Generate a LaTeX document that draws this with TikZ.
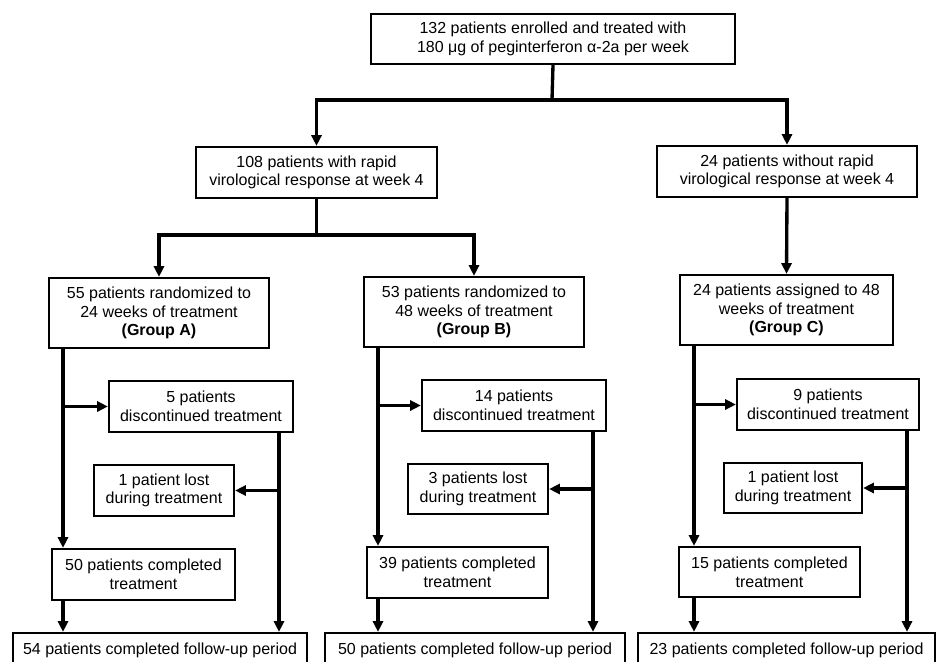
\documentclass[tikz,border=0pt]{standalone}
\usepackage{fontspec}
\setmainfont{Liberation Sans}
\usetikzlibrary{arrows.meta}
\begin{document}
\begin{tikzpicture}[x=0.75pt,y=-0.75pt,
 bx/.style 2 args={draw, line width=1.7pt, minimum width=#1*0.75pt, minimum height=#2*0.75pt, inner sep=0pt, align=center, font=\fontsize{12}{14}\selectfont},
 ln/.style={line width=2.5pt},
 arr/.style={ln, -{Triangle[length=8pt,width=7.5pt]}}]
\useasboundingbox[fill=white] (0,0) rectangle (936,661);
% boxes
\node[bx={364}{50}] (top) at (553,39) {132 patients enrolled and treated with\\180 μg of peginterferon α-2a per week};
\node[bx={241}{51}] (R) at (316.5,172.5) {108 patients with rapid\\virological response at week 4};
\node[bx={260}{51}] (N) at (787,171.5) {24 patients without rapid\\virological response at week 4};
\node[bx={220}{70}] (A) at (159,313) {55 patients randomized to\\24 weeks of treatment\\\textbf{(Group A)}};
\node[bx={220}{70}] (B) at (474,312) {53 patients randomized to\\48 weeks of treatment\\\textbf{(Group B)}};
\node[bx={213}{70}] (C) at (786.5,310) {24 patients assigned to 48\\weeks of treatment\\\textbf{(Group C)}};
\node[bx={184}{51}] (Ad) at (201,406.5) {5 patients\\discontinued treatment};
\node[bx={184}{51}] (Bd) at (514,405.5) {14 patients\\discontinued treatment};
\node[bx={182}{51}] (Cd) at (828,404.5) {9 patients\\discontinued treatment};
\node[bx={140}{51}] (Al) at (164,490.5) {1 patient lost\\during treatment};
\node[bx={140}{50}] (Bl) at (478,489) {3 patients lost\\during treatment};
\node[bx={138}{50}] (Cl) at (793,488) {1 patient lost\\during treatment};
\node[bx={183}{51}] (Ac) at (143.5,574.5) {50 patients completed\\treatment};
\node[bx={181}{51}] (Bc) at (457.5,572.5) {39 patients completed\\treatment};
\node[bx={181}{50}] (Cc) at (769.5,572) {15 patients completed\\treatment};
\node[bx={294}{34}] (Af) at (160,650) {54 patients completed follow-up period};
\node[bx={300}{34}] (Bf) at (475,650) {50 patients completed follow-up period};
\node[bx={297}{34}] (Cf) at (786.5,650) {23 patients completed follow-up period};
% helper coordinates
\coordinate (s1) at (552,100);
\coordinate (s2) at (316.5,235);
\coordinate (xA) at (63,0);
\coordinate (xA2) at (279,0);
\coordinate (xB) at (378,0);
\coordinate (xB2) at (593,0);
\coordinate (xC) at (694,0);
\coordinate (xC2) at (907,0);
% connectors
\draw[ln] (top.south) -- (s1);
\draw[arr] (s1) -| (R.north);
\draw[arr] (s1) -| (N.north);
\draw[ln] (R.south) -- (s2);
\draw[arr] (s2) -| (A.north);
\draw[arr] (s2) -| (B.north);
\draw[arr] (N.south) -- (C.north);
% group A
\draw[arr] (A.south -| xA) -- (Ac.north -| xA);
\draw[arr] (xA |- Ad.west) -- (Ad.west);
\draw[arr] (Ad.south -| xA2) -- (Af.north -| xA2);
\draw[arr] (xA2 |- Al.east) -- (Al.east);
\draw[arr] (Ac.south -| xA) -- (Af.north -| xA);
% group B
\draw[arr] (B.south -| xB) -- (Bc.north -| xB);
\draw[arr] (xB |- Bd.west) -- (Bd.west);
\draw[arr] (Bd.south -| xB2) -- (Bf.north -| xB2);
\draw[arr] (xB2 |- Bl.east) -- (Bl.east);
\draw[arr] (Bc.south -| xB) -- (Bf.north -| xB);
% group C
\draw[arr] (C.south -| xC) -- (Cc.north -| xC);
\draw[arr] (xC |- Cd.west) -- (Cd.west);
\draw[arr] (Cd.south -| xC2) -- (Cf.north -| xC2);
\draw[arr] (xC2 |- Cl.east) -- (Cl.east);
\draw[arr] (Cc.south -| xC) -- (Cf.north -| xC);
\end{tikzpicture}
\end{document}
